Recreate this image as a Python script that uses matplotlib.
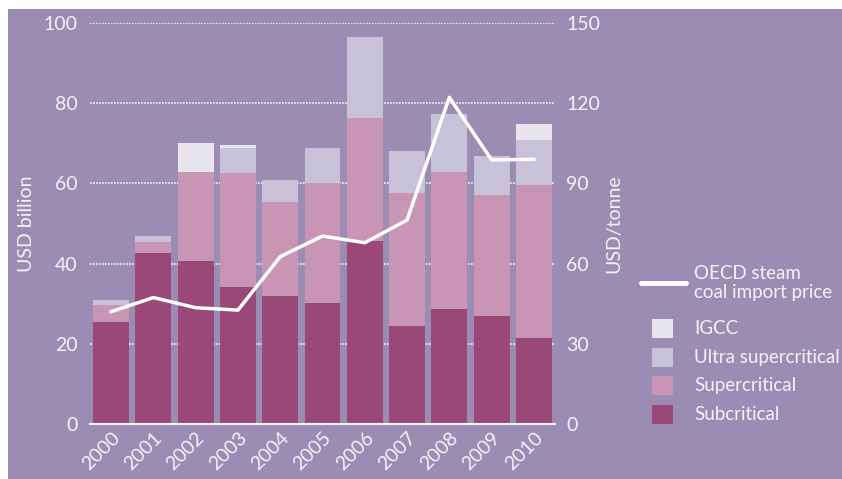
import numpy as np
import matplotlib
matplotlib.use('Agg')
import matplotlib.pyplot as plt
from matplotlib.patches import Rectangle
from matplotlib.lines import Line2D
import matplotlib.transforms as mtransforms

plt.rcParams['font.family'] = ['Lato', 'DejaVu Sans']

# Data (USD billion, stacked) and price (USD/tonne)
years = ['2000', '2001', '2002', '2003', '2004', '2005', '2006', '2007', '2008', '2009', '2010']
subcritical = [25.5, 42.7, 40.7, 34.1, 31.8, 30.1, 45.7, 24.5, 28.7, 26.9, 21.5]
supercritical = [4.2, 2.8, 22.2, 28.5, 23.5, 30.1, 30.5, 33.2, 34.2, 30.3, 38.1]
ultra_supercritical = [1.3, 1.5, 0.0, 6.3, 5.5, 8.6, 20.4, 10.4, 14.4, 9.6, 11.2]
igcc = [0.0, 0.0, 7.2, 0.6, 0.0, 0.0, 0.0, 0.0, 0.0, 0.0, 3.9]
coal_price = [42.0, 47.3, 43.5, 42.6, 62.6, 70.3, 67.8, 76.3, 122.2, 98.8, 99.0]

series = [('Subcritical', subcritical, '#9a4878'),
          ('Supercritical', supercritical, '#c995b5'),
          ('Ultra supercritical', ultra_supercritical, '#c8c2d8'),
          ('IGCC', igcc, '#e8e5ee')]

bg = '#9b8cb3'
fg = '#f4f2f8'
fs = 14
W, H = 842, 479

fig = plt.figure(figsize=(W / 100, H / 100), dpi=100, facecolor='white')
fig.patches.append(Rectangle((8 / W, 0), 1, 1 - 9 / H, transform=fig.transFigure,
                             facecolor=bg, edgecolor='none', zorder=-10))

ax = fig.add_axes([90 / W, 1 - 424 / H, 465 / W, 401 / H])
ax.set_facecolor('none')
x = np.arange(len(years))
bottom = np.zeros(len(years))
for name, vals, col in series:
    ax.bar(x, vals, bottom=bottom, width=0.85, color=col, zorder=2)
    bottom += np.array(vals)

ax.set_xlim(-0.5, 10.5)
ax.set_ylim(0, 100)
ax.set_yticks([0, 20, 40, 60, 80, 100])
ax.set_xticks(x)
ax.set_xticklabels(years, rotation=45, ha='right', va='top', rotation_mode='anchor')
offset = mtransforms.ScaledTranslation(9 / 100, -6 / 100, fig.dpi_scale_trans)
for lab in ax.get_xticklabels():
    lab.set_transform(lab.get_transform() + offset)
ax.tick_params(axis='both', length=0, colors=fg, labelsize=fs)
ax.tick_params(axis='y', pad=9)
for s in ['top', 'right', 'left']:
    ax.spines[s].set_visible(False)
ax.spines['bottom'].set_color(fg)
ax.spines['bottom'].set_linewidth(1.5)
ax.spines['bottom'].set_zorder(5)
for yv in [20, 40, 60, 80, 100]:
    ax.axhline(yv, color=fg, linestyle=(0, (1, 0.8)), linewidth=1.2, zorder=1)
ax.set_ylabel('USD billion', color=fg, fontsize=fs, va='center')
ax.yaxis.set_label_coords((27 - 90) / 465, 0.5)

ax2 = ax.twinx()
ax2.set_ylim(0, 150)
ax2.set_yticks([0, 30, 60, 90, 120, 150])
ax2.plot(x, coal_price, color='white', linewidth=2.5, zorder=4)
ax2.tick_params(axis='y', length=0, colors=fg, labelsize=fs, pad=8)
for s in ax2.spines.values():
    s.set_visible(False)
ax2.set_ylabel('USD/tonne', color=fg, fontsize=fs, va='center')
ax2.yaxis.set_label_coords((614 - 90) / 465, 0.5)

# legend drawn by hand
def fx(px):
    return px / W

def fy(py):
    return 1 - py / H

leg_fs = 13.5
fig.add_artist(Line2D([fx(641), fx(686)], [fy(283), fy(283)], color='white',
                      linewidth=3.5, solid_capstyle='round', transform=fig.transFigure))
fig.text(fx(694), fy(283), 'OECD steam\ncoal import price', color=fg, fontsize=leg_fs,
         va='center', ha='left', linespacing=1.1)
leg_items = [('IGCC', igcc), ('Ultra supercritical', ultra_supercritical),
             ('Supercritical', supercritical), ('Subcritical', subcritical)]
colors = {name: col for name, _, col in series}
for i, (name, _) in enumerate(leg_items):
    yc = 328.5 + i * 28.5
    fig.patches.append(Rectangle((fx(652), fy(yc + 9.5)), 21 / W, 19 / H,
                                 transform=fig.transFigure, facecolor=colors[name],
                                 edgecolor='none'))
    fig.text(fx(694), fy(yc), name, color=fg, fontsize=leg_fs, va='center', ha='left')

fig.savefig('out.png', dpi=100, facecolor='white')
